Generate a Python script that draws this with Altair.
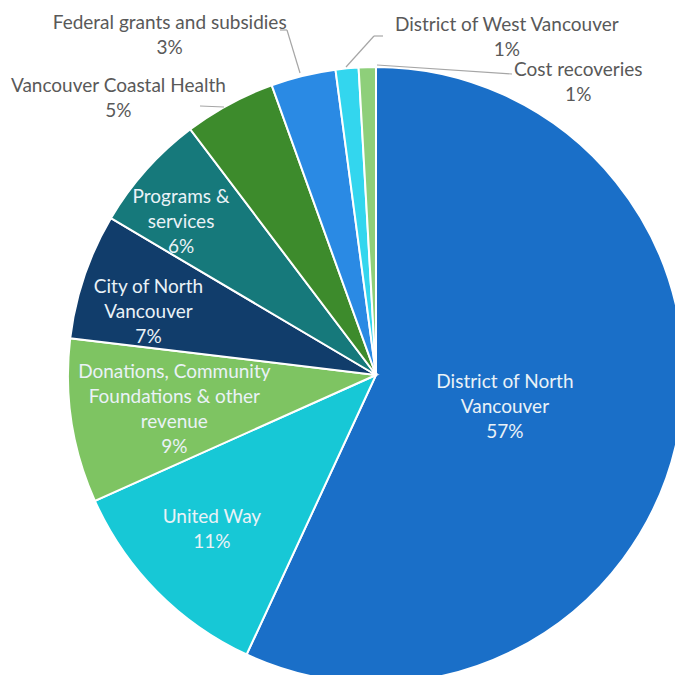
import altair as alt
import pandas as pd

# ---- data ----
categories = [
    "District of North Vancouver",
    "United Way",
    "Donations, Community Foundations & other revenue",
    "City of North Vancouver",
    "Programs & services",
    "Vancouver Coastal Health",
    "Federal grants and subsidies",
    "District of West Vancouver",
    "Cost recoveries",
]
shares = [56.9, 11.4, 8.6, 6.6, 6.2, 4.8, 3.4, 1.2, 0.9]
pct_labels = ["57%", "11%", "9%", "7%", "6%", "5%", "3%", "1%", "1%"]
label_lines = [
    ["District of North", "Vancouver"],
    ["United Way"],
    ["Donations, Community", "Foundations & other", "revenue"],
    ["City of North", "Vancouver"],
    ["Programs &", "services"],
    ["Vancouver Coastal Health"],
    ["Federal grants and subsidies"],
    ["District of West Vancouver"],
    ["Cost recoveries"],
]
colors = ["#1A6FC8", "#17C8D6", "#7EC462", "#113D6B", "#16797B",
          "#3D8B2C", "#2A8AE4", "#33D6EE", "#8ECF7A"]

# ---- layout (style/positions, not data) ----
CX, CY, R = 376, 375, 308
# (radius, dx, dy, inside) ; dy places the first text line
label_layout = [
    (132, 0, -21, True),
    (225, -4, -16.5, True),
    (205, 1, -33.5, True),
    (236, -4, -12, True),
    (248, -10, -13, True),
    (310, -110, -16.5, False),
    (310, -133, -50.5, False),
    (310, 160, -41.5, False),
    (310, 211, 4.5, False),
]
leaders = pd.DataFrame({
    "x1": [200, 280, 287, 383, 374, 377],
    "y1": [106, 30, 30, 36, 36, 65],
    "x2": [224, 287, 300, 374, 346, 512],
    "y2": [107, 30, 73, 36, 67, 74],
})

df = pd.DataFrame({
    "idx": list(range(len(categories))),
    "cat": categories,
    "value": shares,
    "label": ["\n".join(l + [p]) for l, p in zip(label_lines, pct_labels)],
})

base = alt.Chart(df).encode(
    theta=alt.Theta("value:Q", stack=True),
    order=alt.Order("idx:Q"),
    detail=alt.Detail("cat:N"),
    x=alt.value(CX),
    y=alt.value(CY),
)

pie = base.mark_arc(outerRadius=R, stroke="white", strokeWidth=2).encode(
    color=alt.Color("cat:N", scale=alt.Scale(domain=categories, range=colors), legend=None)
)

layers = [pie]

rules = alt.Chart(leaders).mark_rule(color="#A6A6A6", strokeWidth=1.2).encode(
    x=alt.X("x1:Q", scale=None),
    y=alt.Y("y1:Q", scale=None),
    x2="x2:Q",
    y2="y2:Q",
)
layers.append(rules)

for i, (rad, dx, dy, inside) in enumerate(label_layout):
    t = base.transform_calculate(
        t=f"datum.idx == {i} ? datum.label : ''"
    ).mark_text(
        radius=rad, dx=dx, dy=dy, align="center", baseline="middle",
        lineBreak="\n", lineHeight=25, font="Lato", fontSize=19,
        color="#EAF2F7" if inside else "#595959",
    ).encode(text="t:N")
    layers.append(t)

chart = alt.layer(*layers).properties(
    width=675, height=675,
    autosize=alt.AutoSizeParams(type="none"),
    padding=0,
    background="white",
).configure_view(stroke=None)

chart.save("out.html", embed_options={"renderer": "svg", "actions": False})
